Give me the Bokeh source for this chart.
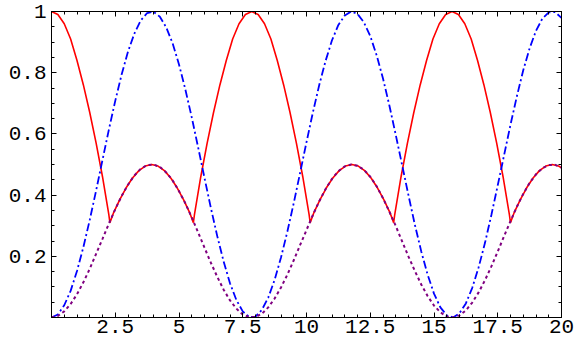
from bokeh.plotting import figure
from bokeh.models import FixedTicker, LinearAxis, Range1d, CustomJSTickFormatter
from bokeh.embed import file_html
from bokeh.resources import INLINE

# ---- data ----
x_grid = [0.0, 0.25, 0.5, 0.75, 1.0, 1.25, 1.5, 1.75, 2.0, 2.25,
          2.5, 2.75, 3.0, 3.25, 3.5, 3.75, 4.0, 4.25, 4.5, 4.75,
          5.0, 5.25, 5.5, 5.75, 6.0, 6.25, 6.5, 6.75, 7.0, 7.25,
          7.5, 7.75, 8.0, 8.25, 8.5, 8.75, 9.0, 9.25, 9.5, 9.75,
          10.0, 10.25, 10.5, 10.75, 11.0, 11.25, 11.5, 11.75, 12.0, 12.25,
          12.5, 12.75, 13.0, 13.25, 13.5, 13.75, 14.0, 14.25, 14.5, 14.75,
          15.0, 15.25, 15.5, 15.75, 16.0, 16.25, 16.5, 16.75, 17.0, 17.25,
          17.5, 17.75, 18.0, 18.25, 18.5, 18.75, 19.0, 19.25, 19.5, 19.75,
          20.0]

blue_y = [0.000, 0.010, 0.040, 0.087, 0.152, 0.230, 0.319, 0.415, 0.515, 0.614,
          0.708, 0.794, 0.869, 0.928, 0.971, 0.995, 0.999, 0.983, 0.948, 0.896,
          0.827, 0.745, 0.654, 0.556, 0.456, 0.358, 0.266, 0.183, 0.112, 0.057,
          0.020, 0.002, 0.003, 0.025, 0.065, 0.123, 0.196, 0.281, 0.374, 0.473,
          0.573, 0.670, 0.760, 0.839, 0.906, 0.956, 0.987, 1.000, 0.992, 0.965,
          0.920, 0.857, 0.781, 0.693, 0.597, 0.498, 0.399, 0.303, 0.216, 0.140,
          0.078, 0.033, 0.007, 0.000, 0.014, 0.046, 0.097, 0.164, 0.244, 0.335,
          0.432, 0.531, 0.630, 0.723, 0.808, 0.880, 0.937, 0.977, 0.997, 0.998,
          0.979]

purple_y = [0.000, 0.005, 0.020, 0.044, 0.076, 0.115, 0.159, 0.208, 0.257, 0.307,
            0.354, 0.397, 0.434, 0.464, 0.486, 0.498, 0.500, 0.492, 0.474, 0.448,
            0.413, 0.373, 0.327, 0.278, 0.228, 0.179, 0.133, 0.091, 0.056, 0.029,
            0.010, 0.001, 0.002, 0.012, 0.033, 0.062, 0.098, 0.140, 0.187, 0.237,
            0.286, 0.335, 0.380, 0.420, 0.453, 0.478, 0.494, 0.500, 0.496, 0.483,
            0.460, 0.429, 0.390, 0.346, 0.299, 0.249, 0.199, 0.152, 0.108, 0.070,
            0.039, 0.017, 0.003, 0.000, 0.007, 0.023, 0.049, 0.082, 0.122, 0.167,
            0.216, 0.266, 0.315, 0.362, 0.404, 0.440, 0.468, 0.488, 0.498, 0.499,
            0.490]

red_x = [0.0, 0.25, 0.5, 0.75, 1.0, 1.25, 1.5, 1.75, 2.0, 2.25, 2.29,
         2.427, 2.677, 2.927, 3.177, 3.427, 3.677, 3.927, 4.177, 4.427, 4.677, 4.927, 5.177, 5.427, 5.564,
         5.604, 5.854, 6.104, 6.354, 6.604, 6.854, 7.104, 7.354, 7.604, 7.854,
         8.104, 8.354, 8.604, 8.854, 9.104, 9.354, 9.604, 9.854, 10.104, 10.144,
         10.281, 10.531, 10.781, 11.031, 11.281, 11.531, 11.781, 12.031, 12.281, 12.531, 12.781, 13.031, 13.281, 13.418,
         13.458, 13.708, 13.958, 14.208, 14.458, 14.708, 14.958, 15.208, 15.458, 15.708,
         15.958, 16.208, 16.458, 16.708, 16.958, 17.208, 17.458, 17.708, 17.958, 17.998,
         18.135, 18.385, 18.635, 18.885, 19.135, 19.385, 19.635, 19.885, 20.0]
red_y = [1.000, 0.990, 0.960, 0.910, 0.840, 0.760, 0.670, 0.570, 0.460, 0.335, 0.310,
         0.341, 0.385, 0.424, 0.456, 0.480, 0.495, 0.500, 0.495, 0.480, 0.456, 0.424, 0.385, 0.341, 0.310,
         0.335, 0.460, 0.570, 0.670, 0.760, 0.840, 0.910, 0.960, 0.990, 1.000,
         0.990, 0.960, 0.910, 0.840, 0.760, 0.670, 0.570, 0.460, 0.335, 0.310,
         0.341, 0.385, 0.424, 0.456, 0.480, 0.495, 0.500, 0.495, 0.480, 0.456, 0.424, 0.385, 0.341, 0.310,
         0.335, 0.460, 0.570, 0.670, 0.760, 0.840, 0.910, 0.960, 0.990, 1.000,
         0.990, 0.960, 0.910, 0.840, 0.760, 0.670, 0.570, 0.460, 0.335, 0.310,
         0.341, 0.385, 0.424, 0.456, 0.480, 0.495, 0.500, 0.495, 0.489]

x_ticks = [2.5, 5, 7.5, 10, 12.5, 15, 17.5, 20]
y_ticks = [0.2, 0.4, 0.6, 0.8, 1]
x_minor = [i * 0.5 for i in range(41)]
y_minor = [i * 0.05 for i in range(21)]

# ---- figure ----
p = figure(width=576, height=346, x_range=Range1d(0, 20), y_range=Range1d(0, 1),
           output_backend="svg", toolbar_location=None,
           min_border_left=51, min_border_right=15, min_border_top=11, min_border_bottom=29)
p.xgrid.grid_line_color = None
p.ygrid.grid_line_color = None
p.outline_line_color = "black"
p.background_fill_color = "white"
p.border_fill_color = "white"

label_fmt = CustomJSTickFormatter(code="return String(tick)")
blank_fmt = CustomJSTickFormatter(code="return ''")

def style(ax):
    ax.axis_line_color = "black"
    ax.axis_line_width = 1
    ax.major_tick_in = 5
    ax.major_tick_out = 0
    ax.minor_tick_in = 3
    ax.minor_tick_out = 0
    ax.major_tick_line_color = "black"
    ax.minor_tick_line_color = "black"
    ax.major_label_text_font = "Liberation Mono"
    ax.major_label_text_font_size = "21px"
    ax.major_label_text_color = "black"

xb = p.xaxis[0]
xb.ticker = FixedTicker(ticks=x_ticks, minor_ticks=x_minor)
xb.formatter = label_fmt
style(xb)
xb.major_label_standoff = 2

yl = p.yaxis[0]
yl.ticker = FixedTicker(ticks=y_ticks, minor_ticks=y_minor)
yl.formatter = label_fmt
style(yl)
yl.major_label_standoff = 5

xa = LinearAxis(ticker=FixedTicker(ticks=x_ticks, minor_ticks=x_minor), formatter=blank_fmt)
style(xa)
xa.major_label_text_font_size = "0px"
xa.major_label_standoff = 0
p.add_layout(xa, "above")

yr = LinearAxis(ticker=FixedTicker(ticks=y_ticks, minor_ticks=y_minor), formatter=blank_fmt)
style(yr)
yr.major_label_text_font_size = "0px"
yr.major_label_standoff = 0
p.add_layout(yr, "right")

# ---- curves ----
p.line(red_x, red_y, line_color="#ff0000", line_width=1.6)
p.line(x_grid, blue_y, line_color="#0000ff", line_width=1.8, line_dash="8 3 2 3")
p.line(x_grid, purple_y, line_color="#800080", line_width=2, line_dash="3 3")

open("out.html", "w").write(file_html(p, INLINE))
